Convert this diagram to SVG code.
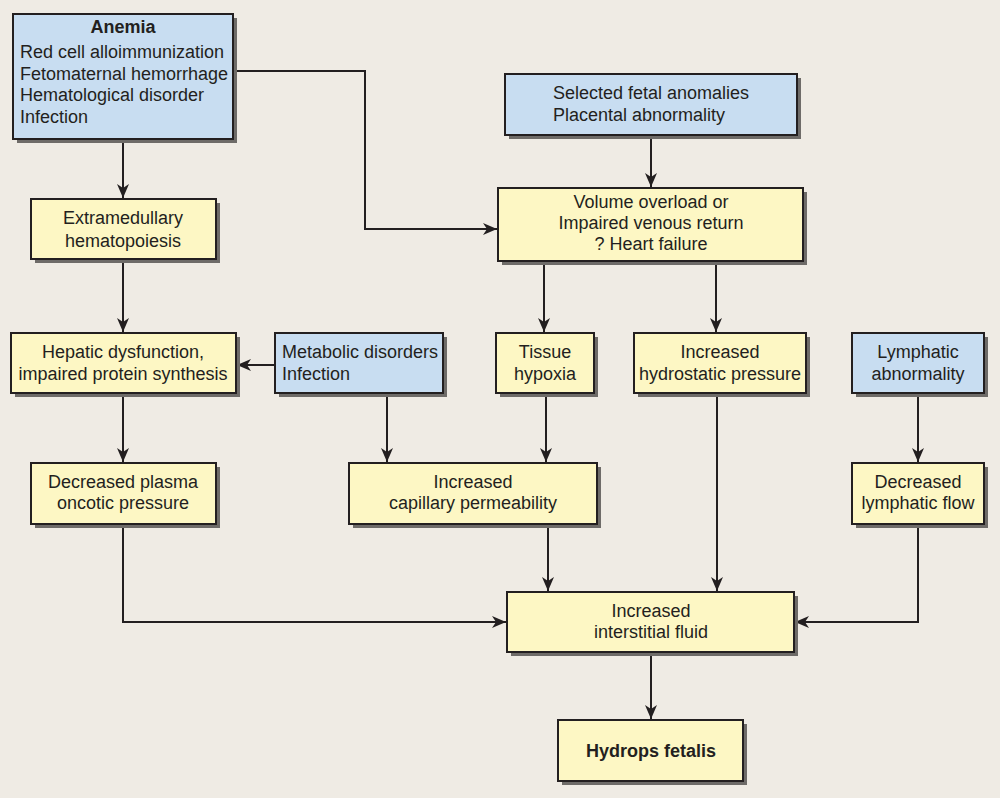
<svg xmlns="http://www.w3.org/2000/svg" width="1000" height="798" viewBox="0 0 1000 798">
<defs>
<marker id="ah" viewBox="0 0 14 12" refX="14" refY="6" markerWidth="14" markerHeight="12" orient="auto" markerUnits="userSpaceOnUse">
<path d="M0,0 L14,6 L0,12 L4,6 z" fill="#231f20"/>
</marker>
</defs>
<style>
.sh{fill:#6e6b68}
.b{fill:#c8ddf1;stroke:#231f20;stroke-width:2}
.y{fill:#fdf7c4;stroke:#231f20;stroke-width:2}
text{font-family:"Liberation Sans",Arial,sans-serif;font-size:18px;fill:#231f20}
.c{text-anchor:middle}
.bold{font-weight:bold}
.ln{fill:none;stroke:#231f20;stroke-width:2;marker-end:url(#ah)}
</style>
<rect width="1000" height="798" fill="#efebe4"/>

<g id="connectors">
<path class="ln" d="M123,139 V198"/>
<path class="ln" d="M233,71 H365 V229 H497"/>
<path class="ln" d="M651,135 V187"/>
<path class="ln" d="M123,259 V332"/>
<path class="ln" d="M544,261 V332"/>
<path class="ln" d="M716,261 V332"/>
<path class="ln" d="M275,365 H237"/>
<path class="ln" d="M123,393 V462"/>
<path class="ln" d="M387,393 V462"/>
<path class="ln" d="M546,393 V462"/>
<path class="ln" d="M918,393 V462"/>
<path class="ln" d="M123,524 V622 H506"/>
<path class="ln" d="M548,524 V591"/>
<path class="ln" d="M717,393 V591"/>
<path class="ln" d="M918,524 V622 H795"/>
<path class="ln" d="M651,652 V719"/>
</g>

<g id="anemia">
<rect class="sh" x="17" y="18" width="220" height="125"/>
<rect class="b" x="13" y="14" width="220" height="125"/>
<text class="c bold" x="123" y="33">Anemia</text>
<text x="20" y="58">Red cell alloimmunization</text>
<text x="20" y="80">Fetomaternal hemorrhage</text>
<text x="20" y="101">Hematological disorder</text>
<text x="20" y="123">Infection</text>
</g>

<g id="fetal">
<rect class="sh" x="509" y="78" width="292" height="61"/>
<rect class="b" x="505" y="74" width="292" height="61"/>
<text x="553" y="99">Selected fetal anomalies</text>
<text x="553" y="121">Placental abnormality</text>
</g>

<g id="extramedullary">
<rect class="sh" x="35" y="203" width="185" height="60"/>
<rect class="y" x="31" y="199" width="185" height="60"/>
<text class="c" x="123" y="224">Extramedullary</text>
<text class="c" x="123" y="247">hematopoiesis</text>
</g>

<g id="volume">
<rect class="sh" x="502" y="192" width="305" height="73"/>
<rect class="y" x="498" y="188" width="305" height="73"/>
<text class="c" x="651" y="208">Volume overload or</text>
<text class="c" x="651" y="229">Impaired venous return</text>
<text class="c" x="651" y="250">? Heart failure</text>
</g>

<g id="hepatic">
<rect class="sh" x="15" y="337" width="225" height="60"/>
<rect class="y" x="11" y="333" width="225" height="60"/>
<text class="c" x="123" y="358">Hepatic dysfunction,</text>
<text class="c" x="123" y="380">impaired protein synthesis</text>
</g>

<g id="metabolic">
<rect class="sh" x="279" y="337" width="168" height="60"/>
<rect class="b" x="275" y="333" width="168" height="60"/>
<text x="282" y="358">Metabolic disorders</text>
<text x="282" y="380">Infection</text>
</g>

<g id="tissue">
<rect class="sh" x="500" y="337" width="98" height="60"/>
<rect class="y" x="496" y="333" width="98" height="60"/>
<text class="c" x="545" y="358">Tissue</text>
<text class="c" x="545" y="380">hypoxia</text>
</g>

<g id="hydrostatic">
<rect class="sh" x="638" y="337" width="172" height="60"/>
<rect class="y" x="634" y="333" width="172" height="60"/>
<text class="c" x="720" y="358">Increased</text>
<text class="c" x="720" y="380">hydrostatic pressure</text>
</g>

<g id="lymphatic">
<rect class="sh" x="856" y="337" width="132" height="60"/>
<rect class="b" x="852" y="333" width="132" height="60"/>
<text class="c" x="918" y="358">Lymphatic</text>
<text class="c" x="918" y="380">abnormality</text>
</g>

<g id="plasma">
<rect class="sh" x="35" y="467" width="185" height="61"/>
<rect class="y" x="31" y="463" width="185" height="61"/>
<text class="c" x="123" y="488">Decreased plasma</text>
<text class="c" x="123" y="509">oncotic pressure</text>
</g>

<g id="capillary">
<rect class="sh" x="353" y="467" width="248" height="61"/>
<rect class="y" x="349" y="463" width="248" height="61"/>
<text class="c" x="473" y="488">Increased</text>
<text class="c" x="473" y="509">capillary permeability</text>
</g>

<g id="lymphflow">
<rect class="sh" x="856" y="467" width="132" height="61"/>
<rect class="y" x="852" y="463" width="132" height="61"/>
<text class="c" x="918" y="488">Decreased</text>
<text class="c" x="918" y="509">lymphatic flow</text>
</g>

<g id="interstitial">
<rect class="sh" x="511" y="596" width="287" height="60"/>
<rect class="y" x="507" y="592" width="287" height="60"/>
<text class="c" x="651" y="617">Increased</text>
<text class="c" x="651" y="638">interstitial fluid</text>
</g>

<g id="hydrops">
<rect class="sh" x="562" y="724" width="185" height="61"/>
<rect class="y" x="558" y="720" width="185" height="61"/>
<text class="c bold" x="651" y="757">Hydrops fetalis</text>
</g>
</svg>
